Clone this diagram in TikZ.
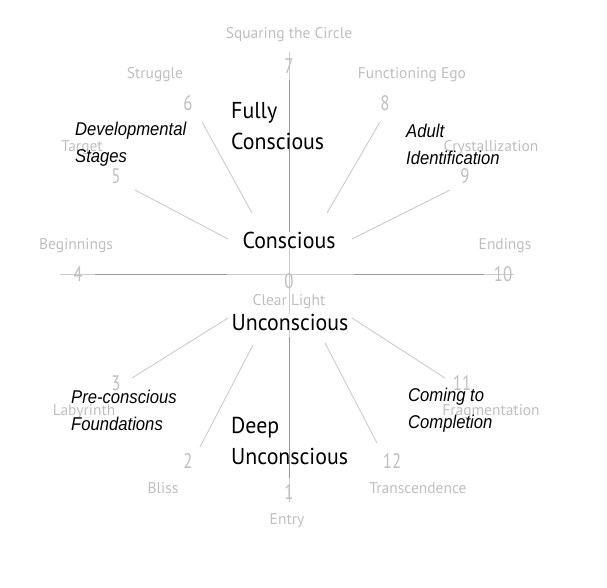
\documentclass[tikz,border=0pt]{standalone}
\usepackage{fontspec}
\setmainfont{PT Sans}
\newfontfamily\mainfont[FakeStretch=0.95]{PT Sans}
\newfontfamily\grayfont{PT Sans}
\newfontfamily\numfont[FakeStretch=0.8]{PT Sans}
\newfontfamily\itfont[FakeStretch=0.9]{Liberation Sans}
\begin{document}
\begin{tikzpicture}[x=1pt,y=-1pt,
  glabel/.style={text=black!25, font=\grayfont\fontsize{15.5}{17}\selectfont, inner sep=0pt},
  gnum/.style={text=black!25, font=\numfont\fontsize{21}{23}\selectfont, inner sep=0pt},
  mainlabel/.style={text=black, font=\mainfont\fontsize{23}{31}\selectfont, inner sep=1pt, align=left},
  itlabel/.style={text=black, font=\itfont\itshape\fontsize{18.5}{27}\selectfont, inner sep=0pt, align=left, anchor=west},
  spoke/.style={draw=black!22, line width=0.8pt},
  axislight/.style={draw=black!20, line width=1pt},
  axisdark/.style={draw=black!40, line width=1pt}
]
\useasboundingbox (0,0) rectangle (607,587);
% axes
\coordinate (top) at (289,52);
\coordinate (bot) at (289,502);
\coordinate (left) at (60,274);
\coordinate (right) at (514,274);
\coordinate (topd) at (289,80);
\coordinate (topd2) at (289,233);
\coordinate (botd) at (289,337);
\coordinate (botd2) at (289,478);
\coordinate (leftd) at (95,274);
\coordinate (leftd2) at (227,274);
\coordinate (rightd) at (354,274);
\coordinate (rightd2) at (484,274);
\draw[axislight] (top) -- (bot);
\draw[axislight] (left) -- (right);
\draw[axisdark] (topd) -- (topd2);
\draw[axisdark] (botd) -- (botd2);
\draw[axisdark] (leftd) -- (leftd2);
\draw[axisdark] (rightd) -- (rightd2);
% spokes
\coordinate (s6a) at (202,122); \coordinate (s6b) at (252,213);
\coordinate (s5a) at (135,190); \coordinate (s5b) at (228,239);
\coordinate (s8a) at (380,122); \coordinate (s8b) at (327,213);
\coordinate (s9a) at (450,190); \coordinate (s9b) at (352,239);
\coordinate (s3a) at (228,318); \coordinate (s3b) at (132,378);
\coordinate (s2a) at (253,345); \coordinate (s2b) at (200,447);
\coordinate (s12a) at (325,343); \coordinate (s12b) at (377,443);
\coordinate (s11a) at (352,318); \coordinate (s11b) at (445,378);
\draw[spoke] (s6a) -- (s6b);
\draw[spoke] (s5a) -- (s5b);
\draw[spoke] (s8a) -- (s8b);
\draw[spoke] (s9a) -- (s9b);
\draw[spoke] (s3a) -- (s3b);
\draw[spoke] (s2a) -- (s2b);
\draw[spoke] (s12a) -- (s12b);
\draw[spoke] (s11a) -- (s11b);
% gray labels
\node[glabel] (l7) at (289,35) {Squaring the Circle};
\node[gnum] (n7) at (289,66) {7};
\node[glabel] (l6) at (155,75) {Struggle};
\node[gnum] (n6) at (188,103) {6};
\node[glabel] (l8) at (412,75) {Functioning Ego};
\node[gnum] (n8) at (385,103) {8};
\node[glabel] (l5) at (82,148) {Target};
\node[gnum] (n5) at (116,176) {5};
\node[glabel] (l9) at (491,148) {Crystallization};
\node[gnum] (n9) at (465,176) {9};
\node[glabel] (l4) at (76,246) {Beginnings};
\node[gnum] (n4) at (78,274) {4};
\node[glabel] (l10) at (505,246) {Endings};
\node[gnum] (n10) at (503,274) {10};
\node[gnum] (n0) at (289,281) {0};
\node[glabel] (l0) at (289,302) {Clear Light};
\node[gnum] (n3) at (116,383) {3};
\node[glabel] (l3) at (84,412) {Labyrinth};
\node[gnum] (n11) at (462,383) {11};
\node[glabel] (l11) at (491,412) {Fragmentation};
\node[gnum] (n2) at (188,461) {2};
\node[glabel] (l2) at (163,488) {Bliss};
\node[gnum] (n12) at (392,461) {12};
\node[glabel] (l12) at (418,488) {Transcendence};
\node[gnum] (n1) at (289,492) {1};
\node[glabel] (l1) at (287,521) {Entry};
% main labels
\node[mainlabel, anchor=west] (fc) at (230,126) {Fully\\Conscious};
\node[mainlabel, fill=white, inner xsep=3pt, inner ysep=0pt] (cons) at (289,240) {Conscious};
\node[mainlabel, fill=white, inner xsep=3pt, inner ysep=0pt] (uncons) at (290,322) {Unconscious};
\node[mainlabel, anchor=west] (du) at (230,441) {Deep\\Unconscious};
% italic labels
\node[itlabel] (dev) at (75,144) {Developmental\\Stages};
\node[itlabel] (adult) at (406,144) {Adult\\Identification};
\node[itlabel] (pre) at (71,410) {Pre-conscious\\Foundations};
\node[itlabel] (come) at (408,410) {Coming to\\Completion};
\end{tikzpicture}
\end{document}
